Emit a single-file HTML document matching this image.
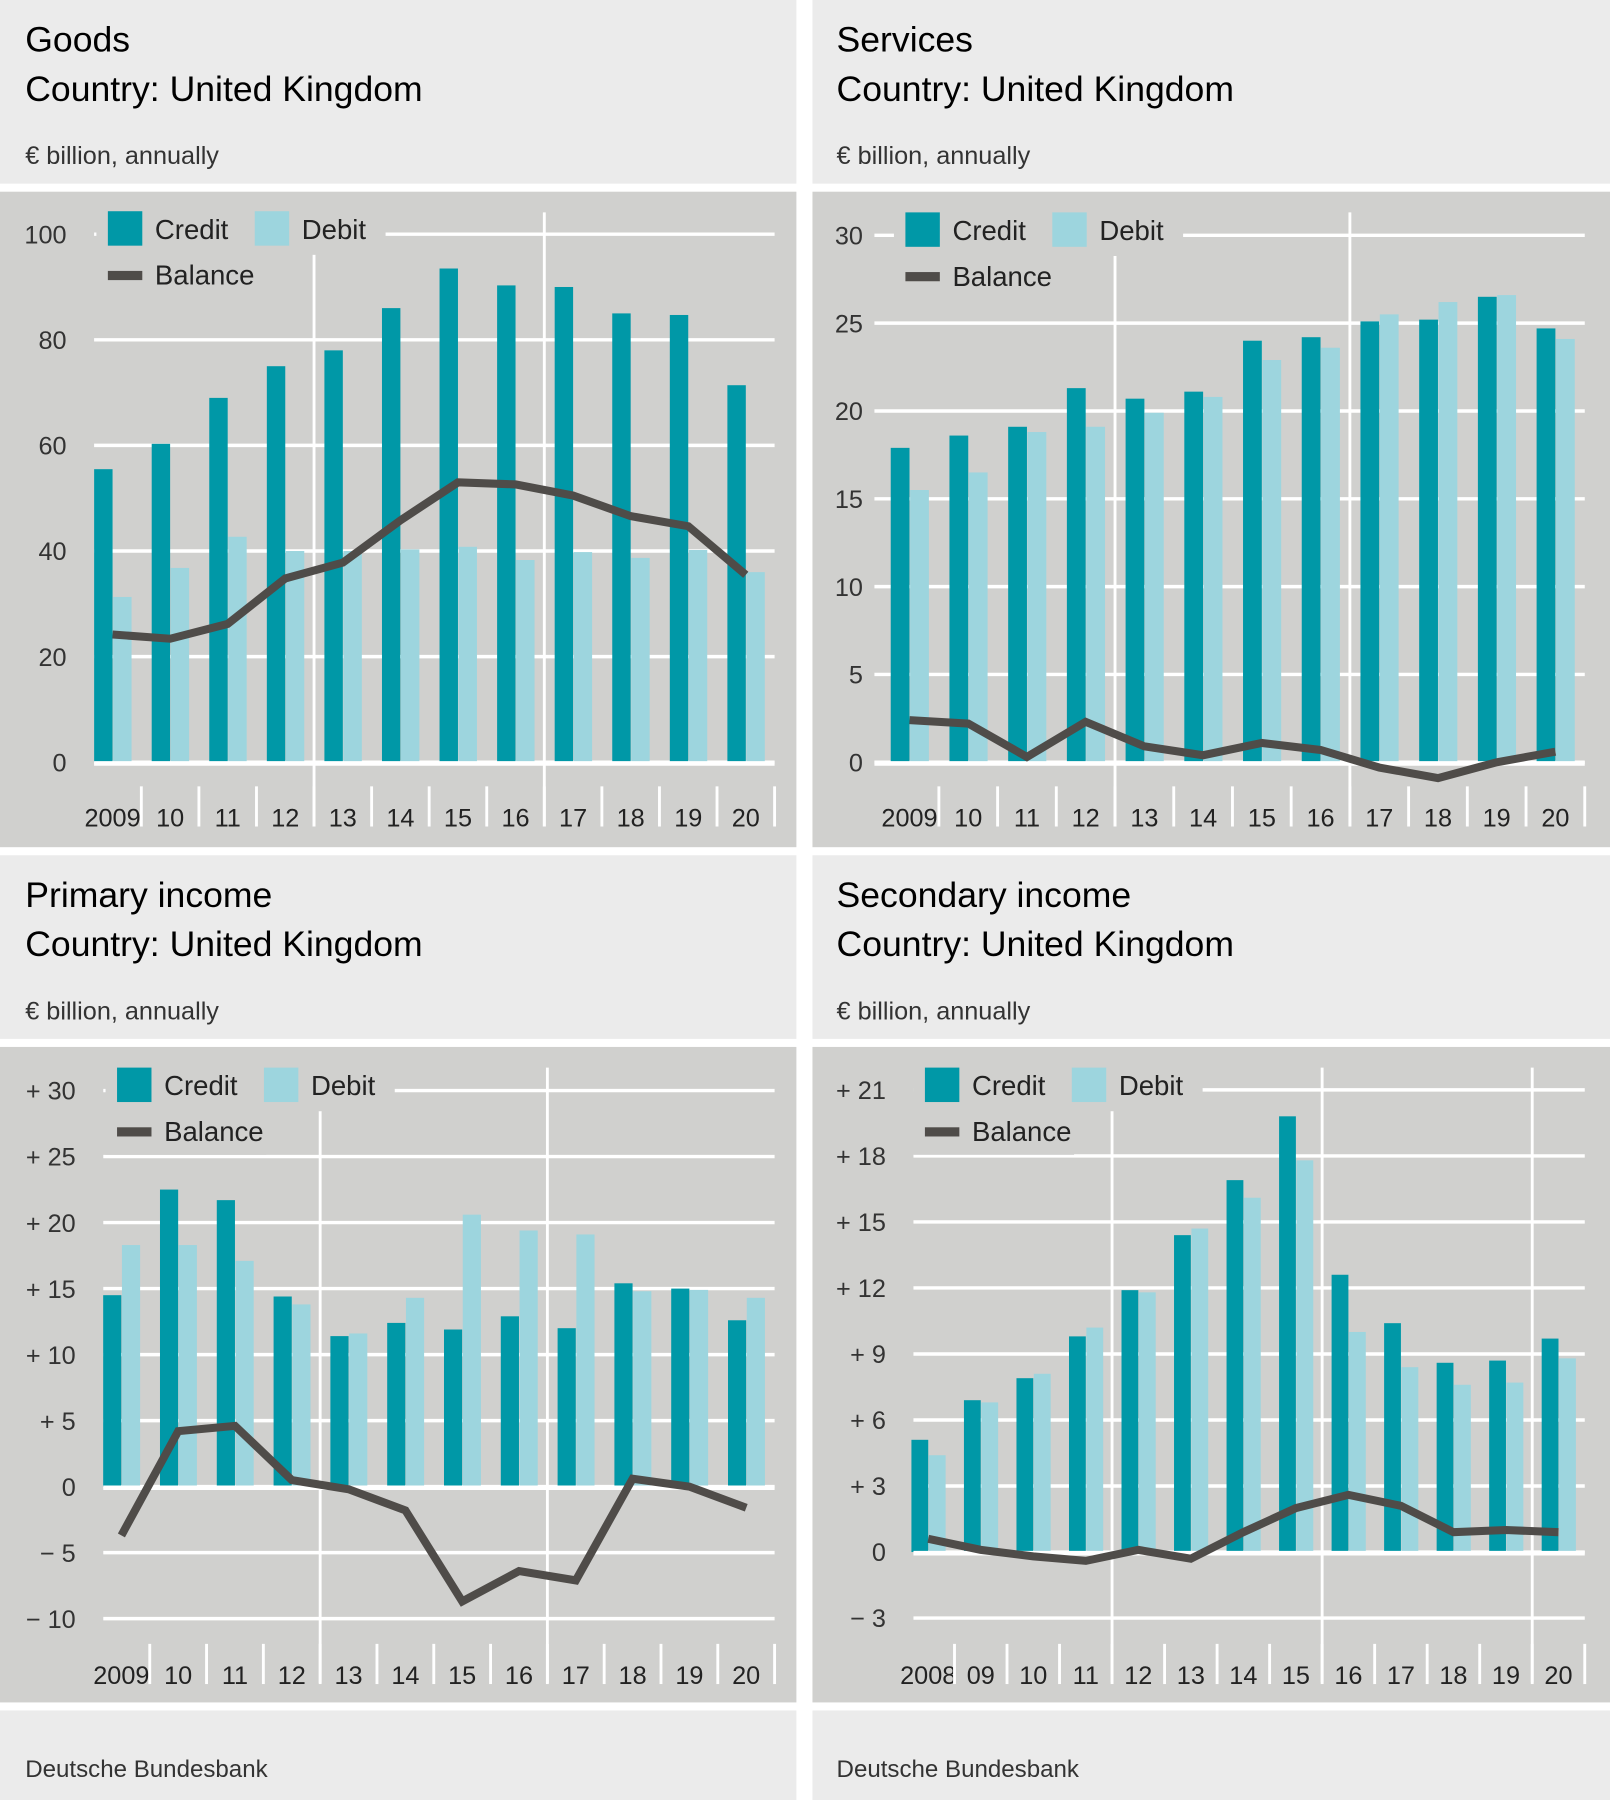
<!DOCTYPE html>
<html><head><meta charset="utf-8"><style>
html,body{margin:0;padding:0;background:#fff;}
svg{display:block;font-family:"Liberation Sans",sans-serif;}
</style></head><body>
<svg id="root" width="1610" height="1800" viewBox="0 0 1403 1568" preserveAspectRatio="none" xmlns="http://www.w3.org/2000/svg">
<rect x="0" y="0" width="1403" height="1568" fill="#ffffff"/>
<g>
<rect x="0" y="0" width="694" height="160" fill="#ebebeb"/>
<text x="22" y="45" font-size="31" fill="#000">Goods</text>
<text x="22" y="88" font-size="31" fill="#000">Country: United Kingdom</text>
<text x="22" y="143" font-size="22" fill="#333">€ billion, annually</text>
</g>
<g>
<rect x="708" y="0" width="695" height="160" fill="#ebebeb"/>
<text x="729" y="45" font-size="31" fill="#000">Services</text>
<text x="729" y="88" font-size="31" fill="#000">Country: United Kingdom</text>
<text x="729" y="143" font-size="22" fill="#333">€ billion, annually</text>
</g>
<g>
<rect x="0" y="745" width="694" height="160" fill="#ebebeb"/>
<text x="22" y="790" font-size="31" fill="#000">Primary income</text>
<text x="22" y="833" font-size="31" fill="#000">Country: United Kingdom</text>
<text x="22" y="888" font-size="22" fill="#333">€ billion, annually</text>
</g>
<g>
<rect x="708" y="745" width="695" height="160" fill="#ebebeb"/>
<text x="729" y="790" font-size="31" fill="#000">Secondary income</text>
<text x="729" y="833" font-size="31" fill="#000">Country: United Kingdom</text>
<text x="729" y="888" font-size="22" fill="#333">€ billion, annually</text>
</g>
<g>
<rect x="0" y="1490" width="694" height="78" fill="#ebebeb"/>
<rect x="708" y="1490" width="695" height="78" fill="#ebebeb"/>
<text x="22" y="1548" font-size="21" fill="#333">Deutsche Bundesbank</text>
<text x="729" y="1548" font-size="21" fill="#333">Deutsche Bundesbank</text>
</g>
</svg>
<script>
// Goods
const goodsYears = ["2009","10","11","12","13","14","15","16","17","18","19","20"];
const goodsCredit = [55.5,60.3,69,75,78,86,93.5,90.3,90,85,84.7,71.4];
const goodsDebit = [31.3,36.8,42.7,40,40,40.3,40.8,38.3,39.8,38.7,40.2,36];
const goodsBalance = [24.2,23.4,26.2,34.8,37.8,45.8,53,52.6,50.5,46.6,44.7,35.5];
const goodsTicks = [0,20,40,60,80,100];
const goodsTickLabels = ["0","20","40","60","80","100"];
// Services
const servYears = ["2009","10","11","12","13","14","15","16","17","18","19","20"];
const servCredit = [17.9,18.6,19.1,21.3,20.7,21.1,24,24.2,25.1,25.2,26.5,24.7];
const servDebit = [15.5,16.5,18.8,19.1,19.9,20.8,22.9,23.6,25.5,26.2,26.6,24.1];
const servBalance = [2.4,2.2,0.3,2.3,0.9,0.4,1.1,0.7,-0.3,-0.9,0,0.6];
const servTicks = [0,5,10,15,20,25,30];
const servTickLabels = ["0","5","10","15","20","25","30"];
// Primary income
const primYears = ["2009","10","11","12","13","14","15","16","17","18","19","20"];
const primCredit = [14.5,22.5,21.7,14.4,11.4,12.4,11.9,12.9,12.0,15.4,15.0,12.6];
const primDebit = [18.3,18.3,17.1,13.8,11.6,14.3,20.6,19.4,19.1,14.8,14.9,14.3];
const primBalance = [-3.7,4.2,4.6,0.5,-0.2,-1.8,-8.7,-6.4,-7.1,0.6,0.0,-1.6];
const primTicks = [-10,-5,0,5,10,15,20,25,30];
const primTickLabels = ["\u2212 10","\u2212  5","0","+  5","+ 10","+ 15","+ 20","+ 25","+ 30"];
// Secondary income
const secYears = ["2008","09","10","11","12","13","14","15","16","17","18","19","20"];
const secCredit = [5.1,6.9,7.9,9.8,11.9,14.4,16.9,19.8,12.6,10.4,8.6,8.7,9.7];
const secDebit = [4.4,6.8,8.1,10.2,11.8,14.7,16.1,17.8,10.0,8.4,7.6,7.7,8.8];
const secBalance = [0.6,0.1,-0.2,-0.4,0.1,-0.3,0.9,2.0,2.6,2.1,0.9,1.0,0.9];
const secTicks = [-3,0,3,6,9,12,15,18,21];
const secTickLabels = ["\u2212  3","0","+  3","+  6","+  9","+ 12","+ 15","+ 18","+ 21"];

const NS = "http://www.w3.org/2000/svg";
const root = document.getElementById('root');
function mk(tag, attrs, parent){const e=document.createElementNS(NS,tag);for(const k in attrs)e.setAttribute(k,attrs[k]);parent.appendChild(e);return e;}

function drawChart(cfg, years, credit, debit, balance, ticks, tickLabels){
  const g = mk('g',{},root);
  
  
  const bg = mk('rect',{x:cfg.px,y:cfg.py,width:cfg.pw,height:cfg.ph,fill:'#d0d0ce'},g);
  
  
  const yS = v => cfg.zeroY - (v - cfg.zeroV) * cfg.ppu;
  const bw = (cfg.binEnd - cfg.binStart) / years.length;
  const xC = i => cfg.binStart + bw*(i+0.5);
  const gridBottom = yS(ticks[0]);
  // vertical separators
  cfg.vsep.forEach(i=>{
    const l = mk('line',{x1:cfg.binStart+bw*i,x2:cfg.binStart+bw*i,y1:cfg.py+18,y2:gridBottom+56,stroke:'#fff','stroke-width':2.5},g);
    
    
  });
  // gridlines + labels
  ticks.forEach((t,i)=>{
    const y = yS(t);
    const l = mk('line',{x1:cfg.gx0,x2:cfg.binEnd,y1:y,y2:y,stroke:'#fff','stroke-width':3},g);
    
    
    const tx = mk('text',{x:cfg.labelX,y:y+8,'font-size':22,fill:'#333','text-anchor':'end','xml:space':'preserve'},g);
    tx.textContent = tickLabels[i];
    
    
  });
  const bwid = bw*0.32;
  years.forEach((yr,i)=>{
    const c = xC(i);
    const r1 = mk('rect',{x:c-bwid,y:Math.min(yS(credit[i]),yS(0)),width:bwid,height:Math.abs(yS(0)-yS(credit[i])),fill:'#0098a7'},g);
    
    
    const r2 = mk('rect',{x:c+0.5,y:Math.min(yS(debit[i]),yS(0)),width:bwid,height:Math.abs(yS(0)-yS(debit[i])),fill:'#9dd5de'},g);
    
    
    const tx = mk('text',{x:c,y:cfg.labelY,'font-size':22,fill:'#222','text-anchor':'middle'},g);
    tx.textContent = yr;
    
    
    if(i>0){
      const s = mk('line',{x1:cfg.binStart+bw*i,x2:cfg.binStart+bw*i,y1:cfg.labelY-35,y2:cfg.labelY,stroke:'#fff','stroke-width':2.5},g);
      
      
    }
  });
  const s2 = mk('line',{x1:cfg.binEnd,x2:cfg.binEnd,y1:cfg.labelY-35,y2:cfg.labelY,stroke:'#fff','stroke-width':2.5},g);
  
  
  // zero line
  const z = mk('line',{x1:cfg.gx0,x2:cfg.binEnd,y1:yS(0)+1,y2:yS(0)+1,stroke:'#fff','stroke-width':4},g);
  
  
  // balance line
  const pts = balance.map((v,i)=>xC(i).toFixed(1)+','+yS(v).toFixed(1)).join(' ');
  const pl = mk('polyline',{points:pts,fill:'none',stroke:'#4f4c49','stroke-width':7,'stroke-linejoin':'miter'},g);
  
  
  // legend
  const lx = cfg.lx, ly = cfg.ly;
  const lg = mk('g',{},g);
  
  
  mk('rect',{x:lx-10,y:ly-10,width:252,height:48,fill:'#d0d0ce'},lg);
  mk('rect',{x:lx-10,y:ly+38,width:140,height:38,fill:'#d0d0ce'},lg);
  const items = [['Credit','#0098a7',0],['Debit','#9dd5de',128]];
  items.forEach(it=>{
    const e = mk('g',{},lg);
    
    
    mk('rect',{x:lx+it[2],y:ly,width:30,height:30,fill:it[1]},e);
    const t = mk('text',{x:lx+it[2]+41,y:ly+24,'font-size':24,fill:'#222'},e);
    t.textContent = it[0];
  });
  const eb = mk('g',{},lg);
  
  
  mk('rect',{x:lx,y:ly+52,width:30,height:8,fill:'#4f4c49'},eb);
  const tb = mk('text',{x:lx+41,y:ly+64,'font-size':24,fill:'#222'},eb);
  tb.textContent = 'Balance';
}

drawChart({name:'chart-goods',px:0,py:167,pw:694,ph:571,zeroY:664,zeroV:0,ppu:4.6,gx0:82,binStart:73,binEnd:675,labelX:58,labelY:720,vsep:[4,8],lx:94,ly:184},
  goodsYears,goodsCredit,goodsDebit,goodsBalance,goodsTicks,goodsTickLabels);
drawChart({name:'chart-services',px:708,py:167,pw:695,ph:571,zeroY:664,zeroV:0,ppu:15.3,gx0:762,binStart:767,binEnd:1381,labelX:752,labelY:720,vsep:[4,8],lx:789,ly:185},
  servYears,servCredit,servDebit,servBalance,servTicks,servTickLabels);
drawChart({name:'chart-primary-income',px:0,py:912,pw:694,ph:571,zeroY:1295,zeroV:0,ppu:11.5,gx0:90,binStart:81,binEnd:675,labelX:66,labelY:1467,vsep:[4,8],lx:102,ly:930},
  primYears,primCredit,primDebit,primBalance,primTicks,primTickLabels);
drawChart({name:'chart-secondary-income',px:708,py:912,pw:695,ph:571,zeroY:1352,zeroV:0,ppu:19.17,gx0:796,binStart:786,binEnd:1381,labelX:772,labelY:1467,vsep:[4,8,12],lx:806,ly:930},
  secYears,secCredit,secDebit,secBalance,secTicks,secTickLabels);
</script>
</body></html>
